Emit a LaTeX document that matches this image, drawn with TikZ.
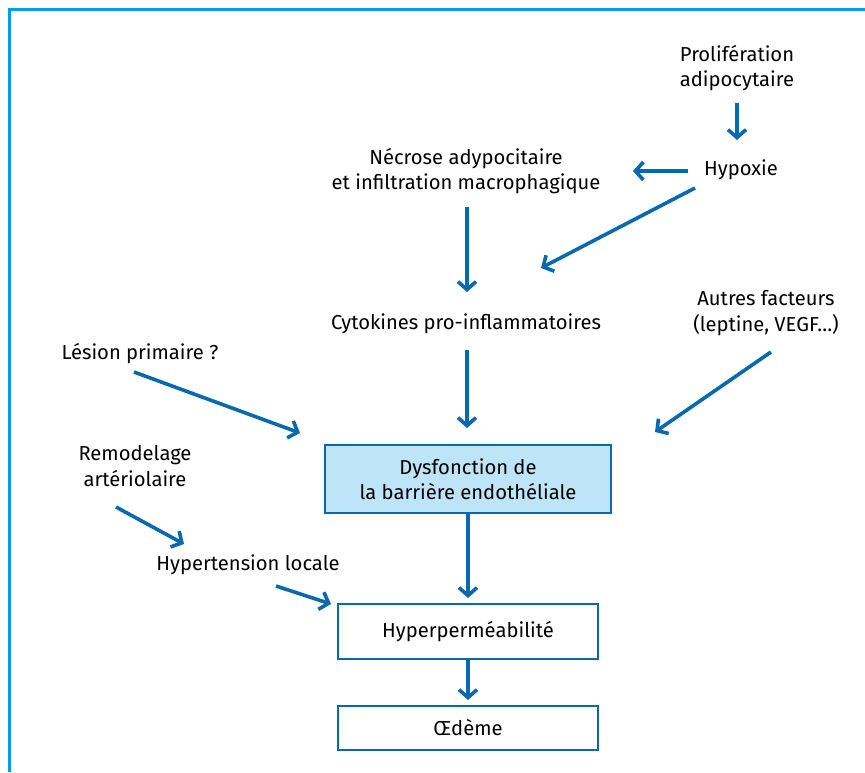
\documentclass[tikz,border=0pt]{standalone}
\usepackage{fontspec}
\setmainfont{Fira Sans}
\usetikzlibrary{arrows.meta}
\definecolor{frameblue}{HTML}{00A0E3}
\definecolor{arrowblue}{HTML}{0868B0}
\definecolor{boxfill}{HTML}{BEE4F8}
\begin{document}
\begin{tikzpicture}[x=1pt,y=-1pt,
  lbl/.style={font=\fontsize{20.2}{25.5}\selectfont, align=center, inner sep=0pt},
  flowbox/.style={draw=arrowblue, line width=2pt, minimum width=260pt, font=\fontsize{20.2}{25.5}\selectfont, align=center},
  arr/.style={draw=arrowblue, line width=3.6pt, -{Straight Barb[length=8pt,width=18pt,line width=3.6pt]}}]
\useasboundingbox (0,0) rectangle (865,772);
% frame
\draw[frameblue, line width=3pt] (9.5,772) -- (9.5,9.5) -- (865,9.5);
% text nodes
\node[lbl] (prolif) at (737,68) {Prolifération\\adipocytaire};
\node[lbl] (hypoxie) at (741,170) {Hypoxie};
\node[lbl] (necrose) at (466,171) {Nécrose adypocitaire\\et infiltration macrophagique};
\node[lbl] (cyto) at (466,324) {Cytokines pro-inflammatoires};
\node[lbl] (autres) at (766,313) {Autres facteurs\\(leptine, VEGF…)};
\node[lbl] (lesion) at (140,354) {Lésion primaire ?};
\node[lbl] (remod) at (135,466) {Remodelage\\artériolaire};
\node[lbl] (hta) at (248,565) {Hypertension locale};
% boxes
\node[flowbox, fill=boxfill, minimum width=286pt, minimum height=68pt] (dysf) at (468,479) {Dysfonction de\\la barrière endothéliale};
\node[flowbox, minimum height=55pt] (hyper) at (468,631.5) {Hyperperméabilité};
\node[flowbox, minimum height=44pt] (oedeme) at (468,728) {Œdème};
% arrow end points
\coordinate (a1s) at (737,103); \coordinate (a1e) at (737,140);
\coordinate (a2s) at (688,171); \coordinate (a2e) at (633,171);
\coordinate (a3s) at (695,188); \coordinate (a3e) at (541,268);
\coordinate (a4s) at (467,207); \coordinate (a4e) at (467,292);
\coordinate (a5s) at (467,350); \coordinate (a5e) at (467,428);
\coordinate (a6s) at (771,352); \coordinate (a6e) at (655,432);
\coordinate (a7s) at (134,372); \coordinate (a7e) at (300,433);
\coordinate (a8s) at (116,507); \coordinate (a8e) at (184,544);
\coordinate (a9s) at (276,586); \coordinate (a9e) at (331,604);
% arrows
\draw[arr] (a1s) -- (a1e);
\draw[arr] (a2s) -- (a2e);
\draw[arr] (a3s) -- (a3e);
\draw[arr] (a4s) -- (a4e);
\draw[arr] (a5s) -- (a5e);
\draw[arr] (a6s) -- (a6e);
\draw[arr] (a7s) -- (a7e);
\draw[arr] (a8s) -- (a8e);
\draw[arr] (a9s) -- (a9e);
\draw[arr, shorten >=5pt] (dysf.south) -- (hyper.north);
\draw[arr, shorten >=5pt] (hyper.south) -- (oedeme.north);
\end{tikzpicture}
\end{document}
